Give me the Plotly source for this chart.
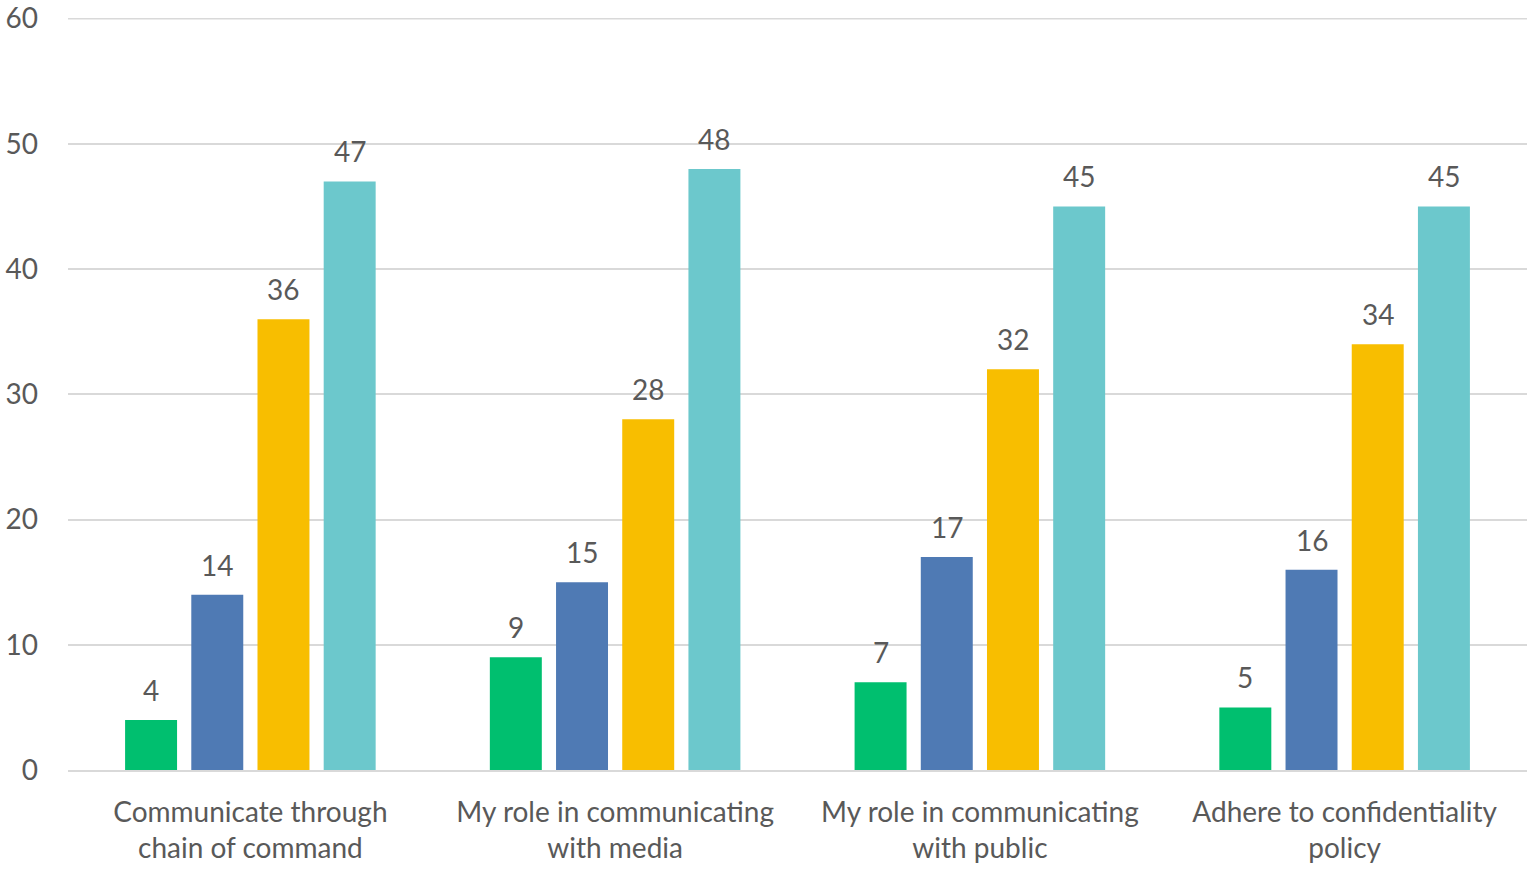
import plotly.graph_objects as go

categories = ["Communicate through<br>chain of command", "My role in communicating<br>with media",
              "My role in communicating<br>with public", "Adhere to confidentiality<br>policy"]
series_names = ["Series 1", "Series 2", "Series 3", "Series 4"]
series_values = [
    [4, 9, 7, 5],
    [14, 15, 17, 16],
    [36, 28, 32, 34],
    [47, 48, 45, 45],
]
colors = ["#00BF6F", "#4F7AB4", "#F8BE00", "#6CC8CC"]
y_ticks = [0, 10, 20, 30, 40, 50, 60]

FONT = "Lato"
TXT = "#595959"
GRID = "#d9d9d9"
FS = 28
BARGAP = 0.274
NSER = len(series_values)

fig = go.Figure()
for name, vals, col in zip(series_names, series_values, colors):
    fig.add_trace(go.Bar(
        x=categories, y=vals, name=name, marker=dict(color=col, line=dict(width=0)),
    ))

# data labels placed above each bar, using category index + group offset
slot = (1 - BARGAP) / NSER
for k, vals in enumerate(series_values):
    for ci, v in enumerate(vals):
        fig.add_annotation(
            x=ci + (k - (NSER - 1) / 2) * slot, y=v, xref="x", yref="y",
            text=str(v), showarrow=False, yanchor="bottom", yshift=11,
            font=dict(family=FONT, size=FS, color=TXT),
        )

# top gridline (plotly hides gridline at the plot edge)
fig.add_shape(type="line", xref="paper", yref="y", x0=0, x1=1, y0=y_ticks[-1], y1=y_ticks[-1],
              line=dict(color=GRID, width=1.5), layer="below")

fig.update_layout(
    width=1527, height=871,
    margin=dict(l=68, r=0, t=18, b=101),
    paper_bgcolor="white", plot_bgcolor="white",
    showlegend=False,
    barmode="group", bargap=BARGAP, bargroupgap=0.215,
    font=dict(family=FONT, size=FS, color=TXT),
    xaxis=dict(showline=True, linecolor=GRID, linewidth=2, ticks="", automargin=False,
               ticklabelstandoff=16,
               tickfont=dict(family=FONT, size=FS, color=TXT)),
    yaxis=dict(range=[0, 60.05], tickvals=y_ticks, showgrid=True,
               gridcolor=GRID, gridwidth=1.5, automargin=False,
               zeroline=False, showline=False, ticks="", ticklabelstandoff=29,
               tickfont=dict(family=FONT, size=FS, color=TXT)),
)

fig.write_html("out.html", config={"displayModeBar": False},
               post_script="document.body.style.margin='0px';document.body.style.overflow='hidden';")
